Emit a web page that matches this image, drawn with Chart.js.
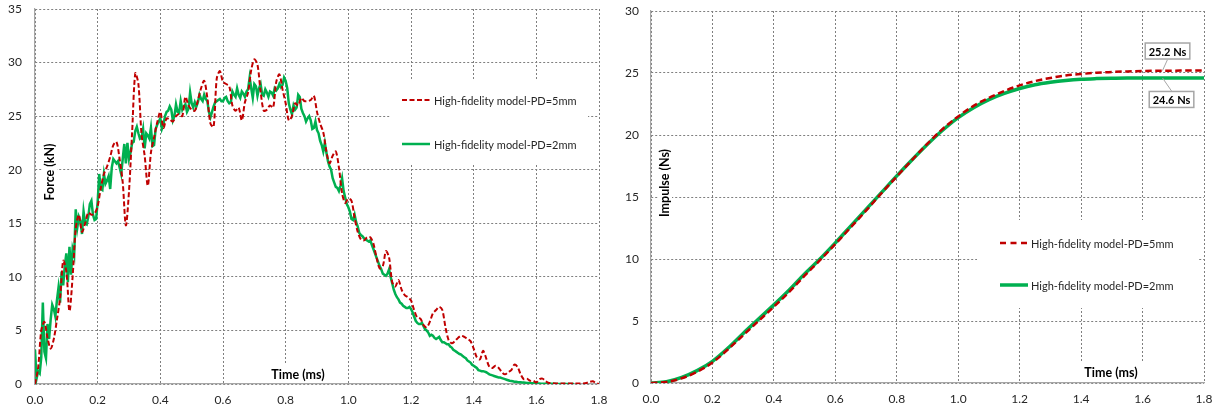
<!DOCTYPE html>
<html>
<head>
<meta charset="utf-8">
<script src="https://cdn.jsdelivr.net/npm/chart.js@4.4.1/dist/chart.umd.min.js"></script>
<style>
  body { margin: 0; background: #fff; }
  #wrap { position: relative; width: 1220px; height: 414px; }
  #wrap canvas { position: absolute; top: 0; }
  #forceChart { left: 0; }
  #impulseChart { left: 610px; }
</style>
</head>
<body>
<div id="wrap">
  <canvas id="forceChart" width="610" height="414"></canvas>
  <canvas id="impulseChart" width="610" height="414"></canvas>
</div>
<script>
// sample spacing (ms) of each recorded series
const forceStepRed = 0.01;
const forceStepGreen = 0.005;
const impulseStep = 0.05;

const labelRed = "High-fidelity model-PD=5mm";
const labelGreen = "High-fidelity model-PD=2mm";

const timeTicks = [0, 0.2, 0.4, 0.6, 0.8, 1.0, 1.2, 1.4, 1.6, 1.8];
const forceTicks = [0, 5, 10, 15, 20, 25, 30, 35];
const impulseTicks = [0, 5, 10, 15, 20, 25, 30];

// contact force, kN (PD = 5 mm), every 0.01 ms
const forceRed = [
  0, 1.5, 5.0, 5.8, 4.3, 3.3, 4.2, 6.0, 8.0, 11.5,
  10.5, 6.8, 10.0, 14.5, 15.8, 14.2, 15.0, 16.0, 15.8, 15.9,
  16.6, 18.3, 19.6, 20.3, 21.2, 22.3, 22.6, 21.0, 18.8, 14.8,
  18.0, 23.5, 29.0, 28.0, 23.3, 21.3, 18.5, 21.6, 23.0, 24.4,
  25.4, 23.9, 24.8, 24.7, 24.5, 25.0, 25.2, 25.0, 26.8, 26.0,
  25.6, 25.5, 26.5, 27.6, 28.3, 26.7, 24.3, 24.0, 28.5, 29.2,
  28.2, 28.0, 27.8, 26.0, 25.5, 25.8, 24.6, 26.3, 27.2, 29.3,
  30.3, 29.8, 27.3, 25.5, 25.6, 26.0, 25.8, 28.2, 28.9, 27.5,
  26.2, 24.6, 25.0, 26.2, 26.0, 26.7, 26.4, 26.4, 26.5, 26.9,
  25.4, 24.3, 23.5, 21.7, 20.6, 21.3, 21.7, 20.2, 17.8, 16.9,
  17.3, 17.1, 15.5, 14.2, 13.5, 13.4, 13.7, 13.7, 13.1, 11.8,
  10.8, 11.0, 12.4, 11.8, 9.5, 9.1, 9.7, 8.8, 8.3, 8.1,
  7.8, 6.9, 6.2, 6.1, 5.5, 5.3, 5.8, 6.6, 6.9, 7.2,
  6.9, 5.3, 4.1, 3.8, 4.0, 4.3, 4.5, 4.4, 4.2, 4.0,
  3.3, 2.5, 2.3, 3.1, 2.4, 1.6, 1.5, 1.7, 1.5, 1.1,
  0.9, 1.1, 1.3, 1.8, 1.6, 0.9, 0.45, 0.5, 0.3, 0.3,
  0.15, 0.45, 0.5, 0.25, 0.1, 0.08, 0.05, 0.05, 0.05, 0.04,
  0.05, 0.04, 0.05, 0.05, 0.04, 0.05, 0.1, 0.2, 0.25, 0.1,
  0.0
];

// contact force, kN (PD = 2 mm), every 0.005 ms
const forceGreen = [
  3.2, 0.5, 1.2, 1.0, 2.5, 7.6, 3.0, 2.4, 5.6, 4.2, 6.0, 7.4, 7.0, 6.3, 7.8, 9.0, 7.6, 10.5, 9.2, 11.0,
  12.2, 9.5, 12.8, 10.2, 12.6, 12.0, 16.3, 14.6, 15.6, 15.2, 14.0, 16.1, 15.0, 14.9, 15.6, 16.8, 17.1, 15.8, 15.3, 15.4,
  17.0, 19.6, 18.2, 18.1, 19.6, 18.7, 19.0, 19.4, 18.2, 20.2, 21.0, 20.8, 20.6, 20.8, 20.2, 19.6, 21.0, 22.4, 20.6, 22.5,
  21.0, 21.6, 22.5, 22.6, 23.6, 24.0, 23.4, 22.9, 23.0, 23.8, 22.0, 23.4, 23.2, 22.9, 23.9, 22.2, 22.3, 23.8, 24.2, 24.5,
  24.8, 23.8, 24.2, 25.0, 25.4, 25.5, 25.9, 25.6, 24.6, 25.0, 26.1, 25.4, 25.3, 26.4, 25.6, 25.9, 26.1, 25.4, 25.7, 27.2,
  26.2, 25.8, 26.3, 25.9, 26.3, 27.0, 26.6, 26.4, 27.0, 26.6, 26.4, 25.4, 24.9, 25.4, 25.9, 26.3, 26.4, 26.5, 26.6, 26.4,
  26.4, 26.7, 26.8, 26.4, 26.2, 26.3, 27.3, 27.0, 26.8, 27.6, 27.0, 26.7, 27.3, 27.1, 26.8, 27.3, 27.5, 28.6, 27.6, 26.7,
  28.0, 27.8, 26.9, 27.6, 28.0, 27.0, 26.9, 27.5, 27.2, 26.8, 27.3, 27.2, 26.9, 27.6, 27.4, 27.6, 28.0, 27.7, 27.9, 28.6,
  28.3, 27.6, 26.2, 25.6, 25.2, 26.0, 25.6, 25.8, 27.0, 26.8, 25.7, 25.3, 25.0, 24.5, 24.8, 25.0, 24.6, 23.8, 23.9, 24.5,
  23.7, 23.4, 22.7, 22.3, 21.7, 22.5, 21.6, 20.8, 20.3, 20.0, 19.2, 18.8, 18.4, 18.3, 18.0, 18.5, 19.2, 18.0, 17.4, 16.8,
  16.5, 16.1, 15.4, 15.3, 15.8, 15.1, 14.7, 14.1, 13.9, 13.8, 13.6, 13.5, 13.4, 13.3, 13.4, 13.0, 12.6, 12.2, 11.8, 11.4,
  11.0, 10.7, 10.3, 10.2, 10.1, 10.3, 10.7, 10.0, 9.4, 8.8, 8.4, 8.1, 7.9, 7.6, 7.5, 7.3, 7.2, 7.1, 7.1, 7.2,
  7.0, 6.7, 6.3, 5.9, 5.7, 5.6, 5.6, 5.7, 5.4, 5.1, 5.0, 4.8, 4.5, 4.6, 4.5, 4.3, 4.2, 4.3, 4.4, 4.1,
  3.9, 3.9, 3.8, 3.7, 3.7, 3.5, 3.4, 3.2, 3.1, 3.0, 2.9, 2.8, 2.75, 2.6, 2.5, 2.4, 2.2, 2.1, 2.0, 1.8,
  1.7, 1.6, 1.5, 1.3, 1.25, 1.2, 1.2, 1.15, 1.1, 1.0, 0.9, 0.85, 0.8, 0.75, 0.7, 0.65, 0.6, 0.6, 0.55, 0.5,
  0.45, 0.4, 0.35, 0.3, 0.28, 0.25, 0.22, 0.2, 0.18, 0.17, 0.16, 0.15, 0.14, 0.12, 0.1, 0.09, 0.08, 0.07, 0.06, 0.05,
  0.05, 0.04, 0.04, 0.03, 0.03, 0.03, 0.02, 0.02, 0.02, 0.02, 0.02, 0.02, 0.02, 0.01, 0.01, 0.01, 0.01, 0.01, 0.01, 0.01,
  0.01, 0.01, 0.01, 0.01, 0.0
];

// impulse, Ns, every 0.05 ms
const impulseRed = [
  0, 0.08, 0.38, 0.9, 1.65, 2.7, 3.85, 5.0, 6.15, 7.35,
  8.65, 9.9, 11.2, 12.55, 13.9, 15.3, 16.65, 18.0, 19.3, 20.5,
  21.5, 22.35, 23.0, 23.55, 24.0, 24.35, 24.6, 24.8, 24.92, 25.02,
  25.08, 25.13, 25.16, 25.18, 25.19, 25.2, 25.2
];
const impulseGreen = [
  0, 0.1, 0.45, 1.0, 1.75, 2.8, 4.0, 5.15, 6.3, 7.5,
  8.8, 10.0, 11.3, 12.65, 14.0, 15.35, 16.7, 18.0, 19.25, 20.4,
  21.4, 22.2, 22.85, 23.35, 23.75, 24.05, 24.25, 24.4, 24.5, 24.55,
  24.58, 24.6, 24.6, 24.6, 24.6, 24.6, 24.6
];

const RED = "#C00000";
const GREEN = "#00B050";

Chart.defaults.font.family = "Lato, 'Open Sans', sans-serif";
Chart.defaults.font.size = 12;
Chart.defaults.color = "#262626";
Chart.defaults.animation = false;

const toPoints = (vals, step) => vals.map((v, i) => ({ x: Math.round(i * step * 1000) / 1000, y: v }));

const gridStyle = { color: "#7f7f7f", lineWidth: 1, drawTicks: false };
const borderStyle = { display: true, color: "#a6a6a6", width: 1.2, dash: [2, 2] };

function timeAxis(height) {
  return {
    type: "linear", min: 0, max: 1.8,
    grid: gridStyle,
    border: borderStyle,
    afterBuildTicks: s => { s.ticks = timeTicks.map(v => ({ value: v })); },
    afterFit: s => { s.height = height; s.paddingLeft = 0; s.paddingRight = 0; },
    ticks: { padding: 9, callback: v => v.toFixed(1), maxRotation: 0, autoSkip: false }
  };
}

function valueAxis(max, ticks, width, pad) {
  return {
    type: "linear", min: 0, max: max,
    grid: gridStyle,
    border: borderStyle,
    afterBuildTicks: s => { s.ticks = ticks.map(v => ({ value: v })); },
    afterFit: s => { s.width = width; s.paddingTop = 0; s.paddingBottom = 0; },
    ticks: { padding: pad }
  };
}

// white patches, axis titles, legend box and value notes drawn in the plot
const overlay = {
  id: "overlay",
  beforeDatasetsDraw(chart, args, opts) {
    const ctx = chart.ctx;
    ctx.save();
    ctx.fillStyle = "#fff";
    opts.titles.forEach(t => ctx.fillRect(t.box[0], t.box[1], t.box[2], t.box[3]));
    const lg = opts.legend;
    ctx.fillRect(lg.x, lg.y, lg.w, lg.h);

    ctx.fillStyle = "#000";
    ctx.font = "bold 12.5px Lato, sans-serif";
    ctx.textAlign = "center";
    ctx.textBaseline = "middle";
    opts.titles.forEach(t => {
      ctx.save();
      ctx.translate(t.x, t.y);
      if (t.rotate) ctx.rotate(-Math.PI / 2);
      ctx.fillText(t.text, 0, 0);
      ctx.restore();
    });
    ctx.restore();
  },
  afterDatasetsDraw(chart, args, opts) {
    const ctx = chart.ctx;
    const lg = opts.legend;
    ctx.save();
    ctx.font = "11px Lato, sans-serif";
    ctx.textBaseline = "middle";
    ctx.textAlign = "left";
    lg.rows.forEach((y, i) => {
      const ds = chart.data.datasets[i];
      ctx.save();
      ctx.strokeStyle = ds.borderColor;
      ctx.lineWidth = ds.borderWidth;
      ctx.setLineDash(lg.dash[i]);
      ctx.beginPath();
      ctx.moveTo(lg.x + lg.lineFrom, y);
      ctx.lineTo(lg.x + lg.lineTo, y);
      ctx.stroke();
      ctx.restore();
      ctx.fillStyle = "#262626";
      ctx.fillText(ds.label, lg.x + lg.textAt, y + 1);
    });

    (opts.notes || []).forEach(n => {
      const data = chart.data.datasets[n.ds].data;
      const last = data[data.length - 1].y;
      const ax = chart.scales.x.getPixelForValue(n.t);
      const ay = chart.scales.y.getPixelForValue(last);
      const text = last.toFixed(1) + " Ns";
      ctx.font = "bold 11px Lato, sans-serif";
      const w = ctx.measureText(text).width + 8;
      const h = 17;
      const bx = ax + n.dx - w / 2;
      const by = n.dy < 0 ? ay + n.dy - h : ay + n.dy;
      ctx.strokeStyle = "#a6a6a6";
      ctx.lineWidth = 1;
      ctx.beginPath();
      ctx.moveTo(ax, ay);
      ctx.lineTo(ax + n.dx, ay + n.dy);
      ctx.stroke();
      ctx.fillStyle = "#fff";
      ctx.fillRect(bx, by, w, h);
      ctx.lineWidth = 1.5;
      ctx.strokeRect(bx + 0.5, by + 0.5, w - 1, h - 1);
      ctx.fillStyle = "#000";
      ctx.textAlign = "center";
      ctx.fillText(text, bx + w / 2, by + h / 2 + 1);
    });
    ctx.restore();
  }
};

new Chart(document.getElementById("forceChart"), {
  type: "line",
  data: {
    datasets: [
      { label: labelRed, data: toPoints(forceRed, forceStepRed), borderColor: RED, borderWidth: 2,
        borderDash: [5, 2.5], tension: 0.3, pointRadius: 0 },
      { label: labelGreen, data: toPoints(forceGreen, forceStepGreen), borderColor: GREEN, borderWidth: 2.5,
        tension: 0, pointRadius: 0 }
    ]
  },
  options: {
    responsive: false,
    layout: { padding: { top: 9, right: 11, left: 0, bottom: 0 } },
    scales: { x: timeAxis(30), y: valueAxis(35, forceTicks, 35, 13) },
    plugins: {
      legend: { display: false },
      tooltip: { enabled: false },
      overlay: {
        titles: [
          { text: "Force (kN)", x: 50, y: 172, rotate: true, box: [43, 140, 14, 64] },
          { text: "Time (ms)", x: 298, y: 375, rotate: false, box: [266, 364, 68, 19] }
        ],
        legend: { x: 390, y: 80, w: 198, h: 85, rows: [100, 144], lineFrom: 12, lineTo: 40, textAt: 44,
                  dash: [[5, 2.5], []] }
      }
    }
  },
  plugins: [overlay]
});

new Chart(document.getElementById("impulseChart"), {
  type: "line",
  data: {
    datasets: [
      { label: labelRed, data: toPoints(impulseRed, impulseStep), borderColor: RED, borderWidth: 2.5,
        borderDash: [6.5, 3.5], cubicInterpolationMode: "monotone", pointRadius: 0 },
      { label: labelGreen, data: toPoints(impulseGreen, impulseStep), borderColor: GREEN, borderWidth: 3.5,
        cubicInterpolationMode: "monotone", pointRadius: 0 }
    ]
  },
  options: {
    responsive: false,
    layout: { padding: { top: 11, right: 16, left: 0, bottom: 0 } },
    scales: { x: timeAxis(31), y: valueAxis(30, impulseTicks, 41, 12) },
    plugins: {
      legend: { display: false },
      tooltip: { enabled: false },
      overlay: {
        titles: [
          { text: "Impulse (Ns)", x: 55, y: 183, rotate: true, box: [48, 146, 14, 74] },
          { text: "Time (ms)", x: 501, y: 373, rotate: false, box: [468, 362, 65, 20] }
        ],
        legend: { x: 367, y: 220, w: 221, h: 88, rows: [243, 285], lineFrom: 23, lineTo: 51, textAt: 54,
                  dash: [[6, 4.5], []] },
        notes: [
          { ds: 0, t: 1.665, dx: 5, dy: -11 },
          { ds: 1, t: 1.665, dx: 9, dy: 13 }
        ]
      }
    }
  },
  plugins: [overlay]
});
</script>
</body>
</html>
